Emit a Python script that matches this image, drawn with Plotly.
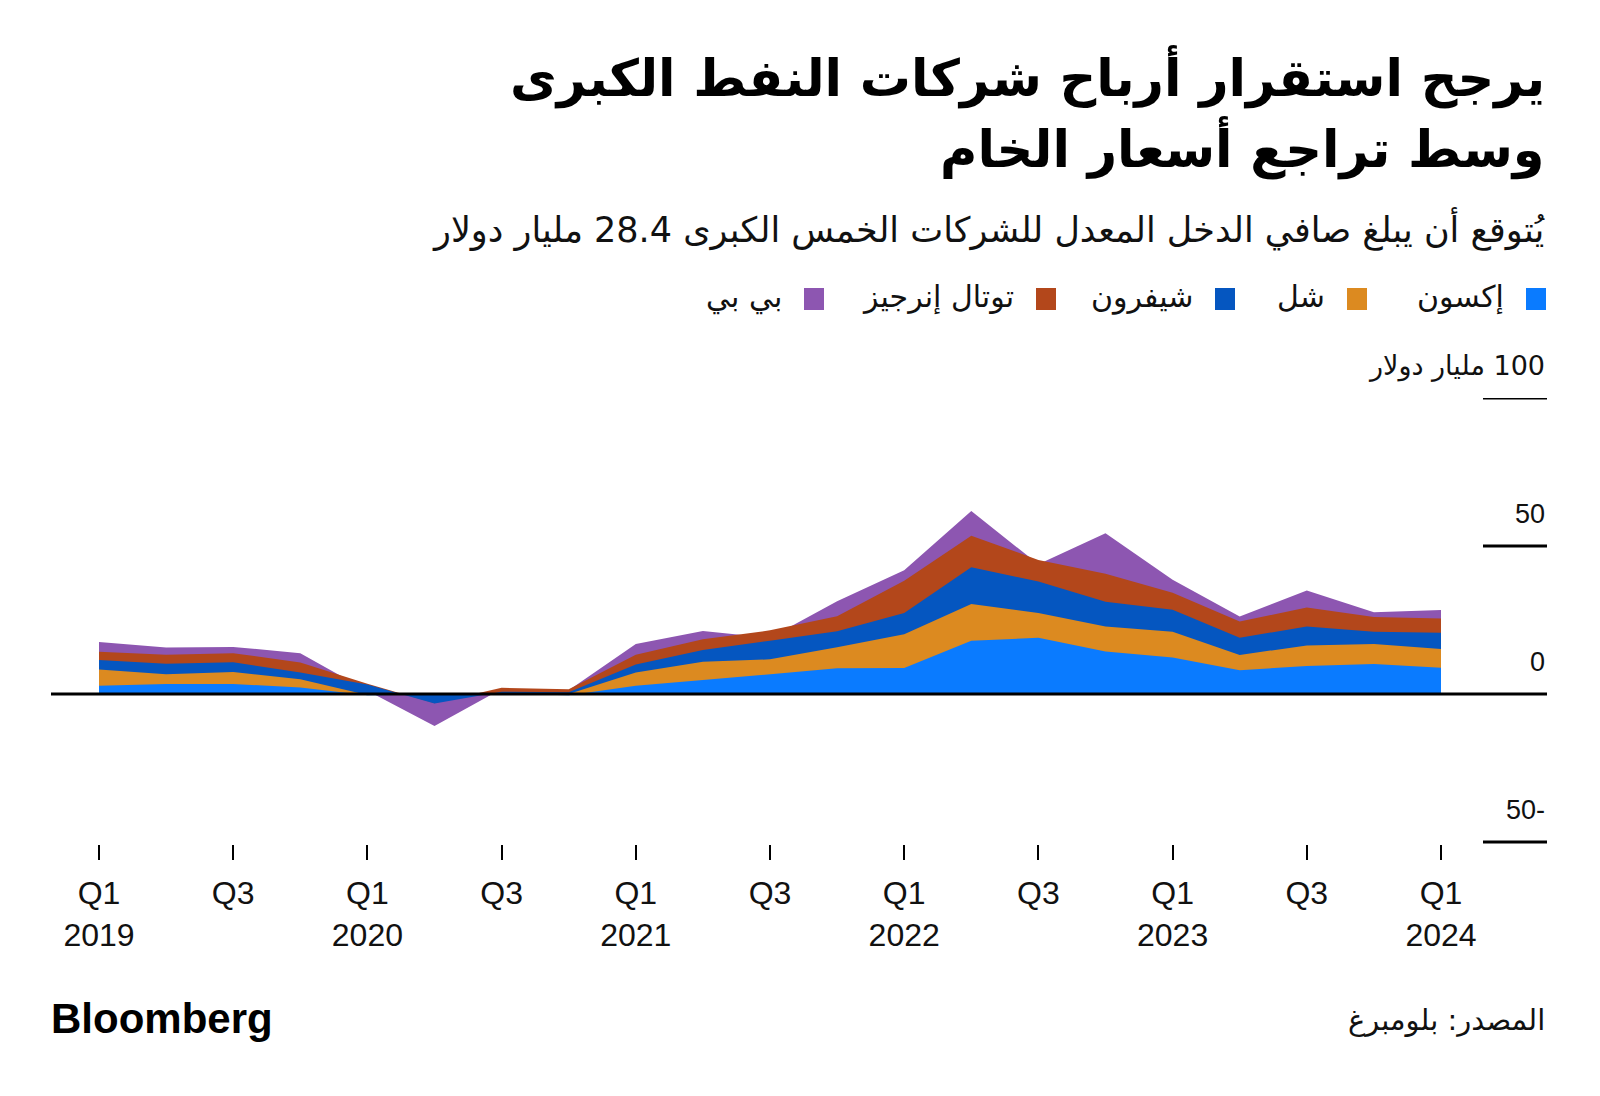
import numpy as np
import plotly.graph_objects as go

# ---------------- data (billions USD) ----------------
quarters = ["Q1 2019", "Q2 2019", "Q3 2019", "Q4 2019",
            "Q1 2020", "Q2 2020", "Q3 2020", "Q4 2020",
            "Q1 2021", "Q2 2021", "Q3 2021", "Q4 2021",
            "Q1 2022", "Q2 2022", "Q3 2022", "Q4 2022",
            "Q1 2023", "Q2 2023", "Q3 2023", "Q4 2023",
            "Q1 2024"]

exxon   = [2.8, 3.4, 3.4, 2.2, -0.4, -0.3, 0.0, -0.4, 2.8, 4.7, 6.8, 8.7, 8.8, 18.0, 19.0, 14.4, 12.3, 8.0, 9.5, 10.1, 8.9]
shell   = [5.5, 3.3, 4.0, 2.8, 0.1, 0.4, 0.3, 0.4, 4.5, 6.2, 4.9, 7.1, 11.4, 12.4, 8.4, 8.4, 8.7, 5.2, 6.9, 6.8, 6.3]
chevron = [3.2, 3.5, 3.3, 2.3, 3.5, -3.3, 0.5, 0.6, 2.7, 4.0, 6.3, 5.4, 7.2, 12.4, 10.6, 8.4, 7.5, 5.8, 6.4, 4.1, 5.5]
total   = [2.8, 3.1, 3.1, 3.3, 0.3, 0.1, 1.3, 1.0, 3.3, 3.6, 3.5, 5.1, 10.9, 10.7, 7.3, 9.4, 5.7, 5.5, 6.4, 5.0, 4.8]
bp      = [3.3, 2.4, 2.1, 3.2, -2.4, -7.7, -0.4, -0.3, 3.6, 2.8, -2.5, 5.0, 3.5, 8.3, -1.5, 13.7, 4.4, 1.7, 5.8, 1.6, 2.9]

series_names = ["إكسون", "شل", "شيفرون", "توتال إنرجيز", "بي بي"]
series_colors = ["#0A7BFF", "#DC8A20", "#0556C0", "#B3471B", "#8D56B1"]

tick_quarters = quarters[::2]
tick_labels = ["Q1<br>2019", "Q3", "Q1<br>2020", "Q3", "Q1<br>2021", "Q3",
               "Q1<br>2022", "Q3", "Q1<br>2023", "Q3", "Q1<br>2024"]
y_ticks = [100, 50, 0, -50]

title_lines = ["يرجح استقرار أرباح شركات النفط الكبرى", "وسط تراجع أسعار الخام"]
subtitle = "يُتوقع أن يبلغ صافي الدخل المعدل للشركات الخمس الكبرى 28.4 مليار دولار"
unit_label = "مليار دولار"
source_text = "المصدر: بلومبرغ"

# ---------------- layout geometry ----------------
OFF = 8                      # page body margin
W, H = 1600 - 2 * OFF, 1096 - 2 * OFF
L = 51 - OFF                 # plot left edge (page x 51)
R = W - (1547 - OFF)         # plot right edge (page x 1547)
T = 398 - OFF                # y = 100 at page y 398
B = H - (844 - OFF)          # plot bottom at page y 844


def px(x):
    """page x pixel -> paper"""
    return (x - OFF - L) / (W - L - R)


def py(y):
    """page y pixel -> paper"""
    return (H - B - (y - OFF)) / (H - T - B)


AR_FONT = "DejaVu Sans"
NUM_FONT = "Liberation Sans"

fig = go.Figure()

# cumulative stacks, drawn back (BP) to front (Exxon), each filled to zero
values = np.array([exxon, shell, chevron, total, bp])
cum = np.cumsum(values, axis=0)
for k in range(len(series_names) - 1, -1, -1):
    fig.add_trace(go.Scatter(
        x=quarters, y=cum[k], mode="lines", fill="tozeroy",
        line=dict(width=0, color=series_colors[k]),
        fillcolor=series_colors[k], name=series_names[k],
        hoverinfo="skip", showlegend=False))

shapes = []
annotations = []

# y gridlines (short on the right, full zero line)
for v in y_ticks:
    shapes.append(dict(type="line", xref="paper", yref="y",
                       x0=0 if v == 0 else px(1483), x1=1, y0=v, y1=v,
                       line=dict(color="black", width=3), layer="above"))
    if v == 100:
        txt = "\u200f" + f"{v} " + unit_label
    elif v < 0:
        txt = "\u200f" + f"{v}"
    else:
        txt = f"{v}"
    annotations.append(dict(xref="paper", yref="y", x=1, y=v, yshift=32,
                            xanchor="right", yanchor="middle", showarrow=False,
                            text=txt, font=dict(family=AR_FONT if v == 100 else NUM_FONT,
                                                size=27, color="#111")))

# title
annotations.append(dict(xref="paper", yref="paper", x=px(1547), y=py(77),
                        xanchor="right", yanchor="middle", showarrow=False,
                        text="<b>" + title_lines[0] + "</b>",
                        font=dict(family=AR_FONT, size=51, color="black")))
annotations.append(dict(xref="paper", yref="paper", x=px(1547), y=py(148),
                        xanchor="right", yanchor="middle", showarrow=False,
                        text="<b>" + title_lines[1] + "</b>",
                        font=dict(family=AR_FONT, size=51, color="black")))
# subtitle
annotations.append(dict(xref="paper", yref="paper", x=px(1547), y=py(229),
                        xanchor="right", yanchor="middle", showarrow=False,
                        text=subtitle, font=dict(family=AR_FONT, size=35, color="#111")))

# legend (RTL: square to the right of label)
leg_sq_x = [1536, 1357, 1225, 1046, 814]
for name, col, sx in zip(series_names, series_colors, leg_sq_x):
    shapes.append(dict(type="rect", xref="paper", yref="paper",
                       x0=px(sx - 10), x1=px(sx + 10), y0=py(310), y1=py(288),
                       fillcolor=col, line=dict(width=0)))
    annotations.append(dict(xref="paper", yref="paper", x=px(sx - 30), y=py(297),
                            xanchor="right", yanchor="middle", showarrow=False,
                            text=name, font=dict(family=AR_FONT, size=30, color="#111")))

# footer
annotations.append(dict(xref="paper", yref="paper", x=px(49), y=py(1018),
                        xanchor="left", yanchor="middle", showarrow=False,
                        text="<b>Bloomberg</b>",
                        font=dict(family=NUM_FONT, size=42, color="black")))
annotations.append(dict(xref="paper", yref="paper", x=px(1547), y=py(1020),
                        xanchor="right", yanchor="middle", showarrow=False,
                        text=source_text, font=dict(family=AR_FONT, size=29, color="#111")))

x_lo = -(99 - 51) / 67.1
x_hi = (1547 - 99) / 67.1

fig.update_layout(
    width=W, height=H,
    margin=dict(l=L, r=R, t=T, b=B, pad=0),
    paper_bgcolor="white", plot_bgcolor="white",
    showlegend=False,
    shapes=shapes, annotations=annotations,
    xaxis=dict(type="category", categoryorder="array", categoryarray=quarters,
               range=[x_lo, x_hi], showgrid=False, zeroline=False, showline=False,
               tickmode="array", tickvals=tick_quarters, ticktext=tick_labels,
               ticks="outside", ticklen=15, tickwidth=2, tickcolor="black",
               ticklabelstandoff=6,
               tickfont=dict(family=NUM_FONT, size=32, color="#111")),
    yaxis=dict(range=[-50 - 2 / 2.96, 100], showgrid=False, zeroline=False,
               showticklabels=False, ticks="", showline=False, fixedrange=True),
)

fig.write_html("out.html")
